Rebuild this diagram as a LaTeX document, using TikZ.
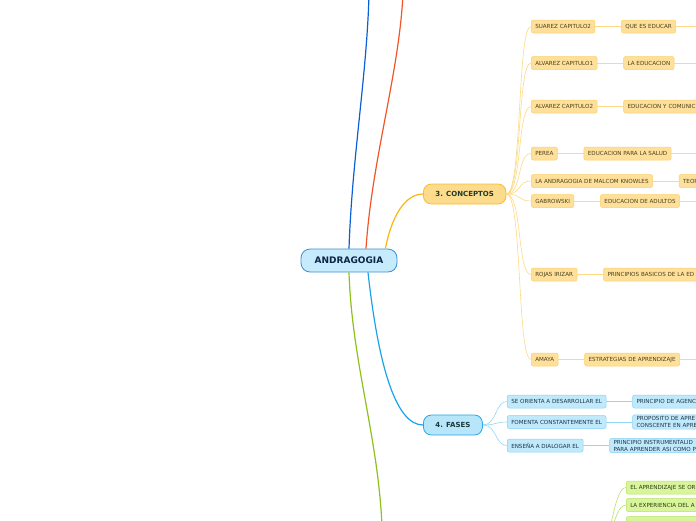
\documentclass[tikz,border=0pt]{standalone}
\usepackage{fontspec}
\setmainfont{DejaVu Sans}
\usepackage{tikz}
\usetikzlibrary{positioning}
\usepackage{xcolor}
\definecolor{rootfill}{HTML}{C6EBFC}
\definecolor{rootdraw}{HTML}{3C8FD2}
\definecolor{roottext}{HTML}{0E2447}
\definecolor{concfill}{HTML}{FDDB8C}
\definecolor{concdraw}{HTML}{F7BD2C}
\definecolor{conctext}{HTML}{1E3B2E}
\definecolor{concline}{HTML}{F8B70E}
\definecolor{yfill}{HTML}{FEE09A}
\definecolor{ydraw}{HTML}{FBD06C}
\definecolor{yline}{HTML}{FDD985}
\definecolor{ytext}{HTML}{4A3F1E}
\definecolor{fasefill}{HTML}{B7E5FA}
\definecolor{fasedraw}{HTML}{26A6E8}
\definecolor{fasetext}{HTML}{17393A}
\definecolor{faseline}{HTML}{1AA3EA}
\definecolor{bfill}{HTML}{C0E9FB}
\definecolor{bdraw}{HTML}{88D2F4}
\definecolor{bline}{HTML}{92D7F6}
\definecolor{btext}{HTML}{1D3548}
\definecolor{gfill}{HTML}{D9F59C}
\definecolor{gdraw}{HTML}{B6E25C}
\definecolor{gline}{HTML}{B9E06A}
\definecolor{gtext}{HTML}{2C3A14}
\definecolor{topblue}{HTML}{0A5FD4}
\definecolor{topred}{HTML}{F2542A}
\definecolor{greenline}{HTML}{8CC21A}
\tikzstyle{root} = [rectangle, rounded corners=9pt, minimum width=96pt, minimum height=23pt, draw=rootdraw, fill=rootfill, line width=0.8pt, text=roottext, font=\fontsize{9}{10}\selectfont\bfseries]
\tikzstyle{main} = [rectangle, rounded corners=8pt, minimum height=20pt, inner xsep=12pt, line width=0.8pt, font=\fontsize{7}{8}\selectfont\bfseries]
\tikzstyle{leaf} = [rectangle, rounded corners=2pt, minimum height=13pt, inner xsep=4pt, inner ysep=1.5pt, line width=0.5pt, font=\fontsize{5.6}{7}\selectfont]
\tikzstyle{yleaf} = [leaf, fill=yfill, draw=ydraw, text=ytext]
\tikzstyle{bleaf} = [leaf, fill=bfill, draw=bdraw, text=btext]
\tikzstyle{gleaf} = [leaf, fill=gfill, draw=gdraw, text=gtext]
\tikzstyle{cut} = [text width=95pt, align=left]
\tikzstyle{branch} = [line width=1.2pt]
\tikzstyle{ylink} = [line width=0.6pt, yline]
\tikzstyle{blink} = [line width=0.6pt, bline]
\tikzstyle{glink} = [line width=0.6pt, gline]

\begin{document}
\begin{tikzpicture}[x=1pt, y=-1pt, node distance=26pt]
  \useasboundingbox (0,0) rectangle (696,520);
  \clip (0,0) rectangle (696,520);

  \node[root] (andr) at (349,260.5) {ANDRAGOGIA};
  \node[main, anchor=west, fill=concfill, draw=concdraw, text=conctext] (conc) at (423,194) {3. CONCEPTOS};
  \node[main, anchor=west, fill=fasefill, draw=fasedraw, text=fasetext] (fase) at (423,425) {4. FASES};

  % Branches leaving the page
  \coordinate (topb) at (369,-6);
  \coordinate (topr) at (403,-6);
  \coordinate (botg) at (382,526);
  \coordinate (gpar) at (596,560);

  % Main branches
  \draw[branch, topblue] (andr.north) .. controls +(3,-90) and +(-2,80) .. (topb);
  \draw[branch, topred] ([xshift=17pt]andr.north) .. controls +(6,-90) and +(-4,80) .. (topr);
  \draw[branch, concline] ([xshift=-12pt]andr.north east) .. controls +(6,-32) and +(-18,0) .. (conc.west);
  \draw[branch, faseline] ([xshift=19pt]andr.south) .. controls +(10,90) and +(-28,0) .. (fase.west);
  \draw[branch, greenline] (andr.south) .. controls +(3,90) and +(-4,-90) .. (botg);

  % Conceptos
  \node[yleaf, anchor=west] (s1) at (531,26.5) {SUAREZ CAPITULO2};
  \node[yleaf, anchor=west] (s2) at (531,63) {ALVAREZ CAPITULO1};
  \node[yleaf, anchor=west] (s3) at (531,106.5) {ALVAREZ CAPITULO2};
  \node[yleaf, anchor=west] (s4) at (531,153.5) {PEREA};
  \node[yleaf, anchor=west] (s5) at (531,181) {LA ANDRAGOGIA DE MALCOM KNOWLES};
  \node[yleaf, anchor=west] (s6) at (531,201) {GABROWSKI};
  \node[yleaf, anchor=west] (s7) at (531,274.5) {ROJAS IRIZAR};
  \node[yleaf, anchor=west] (s8) at (531,359.5) {AMAYA};

  \node[yleaf, right=of s1] (q1) {QUE ES EDUCAR};
  \node[yleaf, right=of s2] (q2) {LA EDUCACION};
  \node[yleaf, cut, right=of s3] (q3) {EDUCACION Y COMUNIC};
  \node[yleaf, right=of s4] (q4) {EDUCACION PARA LA SALUD};
  \node[yleaf, cut, right=of s5] (q5) {TEOR};
  \node[yleaf, right=of s6] (q6) {EDUCACION DE ADULTOS};
  \node[yleaf, cut, right=of s7] (q7) {PRINCIPIOS BASICOS DE LA ED};
  \node[yleaf, right=of s8] (q8) {ESTRATEGIAS DE APRENDIZAJE};

  \coordinate (e1) at (700,26.5);
  \coordinate (e2) at (700,63);
  \coordinate (e4) at (700,153.5);
  \coordinate (e6) at (700,201);
  \coordinate (e8) at (700,359.5);

  \draw[ylink] (conc.east) .. controls +(16,0) and +(-14,0) .. (s1.west);
  \draw[ylink] (conc.east) .. controls +(16,0) and +(-14,0) .. (s2.west);
  \draw[ylink] (conc.east) .. controls +(16,0) and +(-14,0) .. (s3.west);
  \draw[ylink] (conc.east) .. controls +(16,0) and +(-14,0) .. (s4.west);
  \draw[ylink] (conc.east) .. controls +(16,0) and +(-14,0) .. (s5.west);
  \draw[ylink] (conc.east) .. controls +(16,0) and +(-14,0) .. (s6.west);
  \draw[ylink] (conc.east) .. controls +(16,0) and +(-14,0) .. (s7.west);
  \draw[ylink] (conc.east) .. controls +(16,0) and +(-14,0) .. (s8.west);

  \draw[ylink] (s1) -- (q1);
  \draw[ylink] (s2) -- (q2);
  \draw[ylink] (s3) -- (q3);
  \draw[ylink] (s4) -- (q4);
  \draw[ylink] (s5) -- (q5);
  \draw[ylink] (s6) -- (q6);
  \draw[ylink] (s7) -- (q7);
  \draw[ylink] (s8) -- (q8);
  \draw[ylink] (q1) -- (e1);
  \draw[ylink] (q2) -- (e2);
  \draw[ylink] (q4) -- (e4);
  \draw[ylink] (q6) -- (e6);
  \draw[ylink] (q8) -- (e8);

  % Fases
  \node[bleaf, anchor=west] (f1) at (507,401.5) {SE ORIENTA A DESARROLLAR EL};
  \node[bleaf, anchor=west] (f2) at (507,422) {FOMENTA CONSTANTEMENTE EL};
  \node[bleaf, anchor=west] (f3) at (507,445.5) {ENSEÑA A DIALOGAR EL};

  \node[bleaf, cut, right=of f1] (p1) {PRINCIPIO DE AGENC};
  \node[bleaf, cut, right=of f2] (p2) {PROPOSITO DE APRE\\CONSCENTE EN APRE};
  \node[bleaf, cut, right=of f3] (p3) {PRINCIPIO INSTRUMENTALID\\PARA APRENDER ASI COMO P};

  \draw[blink] (fase.east) .. controls +(14,0) and +(-12,0) .. (f1.west);
  \draw[blink] (fase.east) .. controls +(14,0) and +(-12,0) .. (f2.west);
  \draw[blink] (fase.east) .. controls +(14,0) and +(-12,0) .. (f3.west);
  \draw[blink] (f1) -- (p1);
  \draw[blink] (f2) -- (p2);
  \draw[blink] (f3) -- (p3);

  % Green branch
  \node[gleaf, cut, anchor=west] (g1) at (626,487.5) {EL APRENDIZAJE SE OR};
  \node[gleaf, cut, anchor=west] (g2) at (626,505) {LA EXPERIENCIA DEL A};
  \node[gleaf, cut, anchor=west] (g3) at (626,523) {};

  \draw[glink] (gpar) .. controls +(14,0) and +(-14,0) .. (g1.west);
  \draw[glink] (gpar) .. controls +(14,0) and +(-14,0) .. (g2.west);
  \draw[glink] (gpar) .. controls +(14,0) and +(-14,0) .. (g3.west);
\end{tikzpicture}
\end{document}
